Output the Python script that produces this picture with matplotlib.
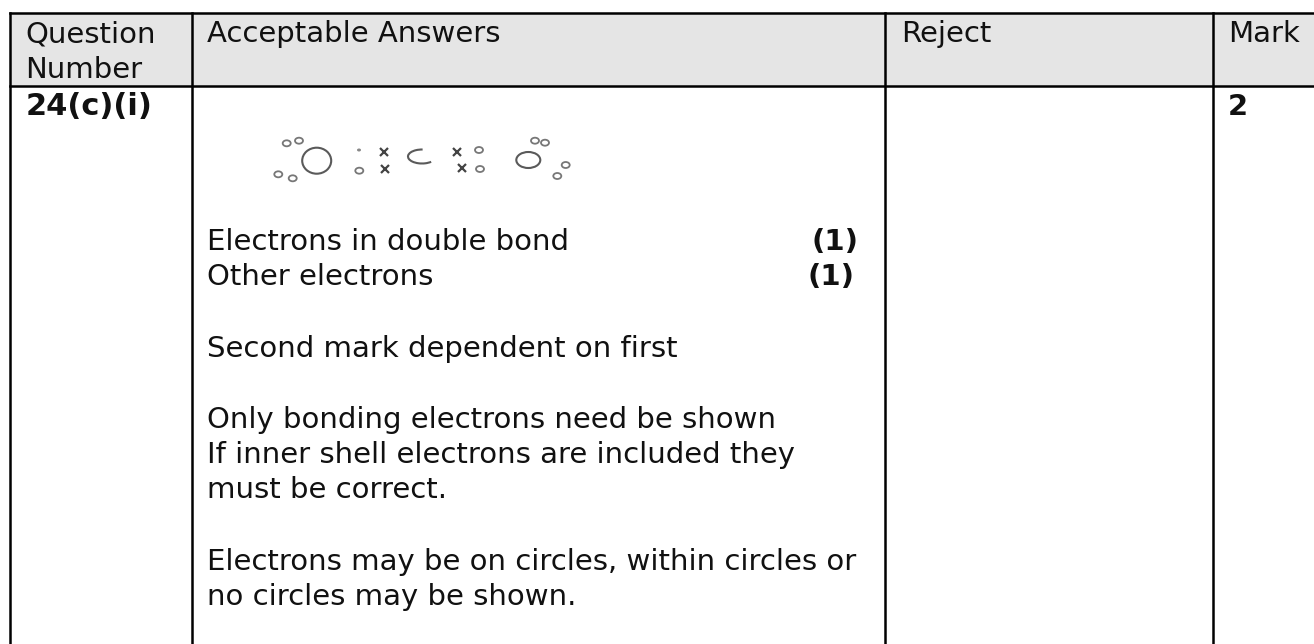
import matplotlib
matplotlib.use('Agg')
import matplotlib.pyplot as plt
from matplotlib.patches import Rectangle, Ellipse, Arc

W, H = 1314, 644

col_edges = [10, 192, 885, 1213]
row_edges = [13, 86]

header = ['Question\nNumber', 'Acceptable Answers', 'Reject', 'Mark']
header_x = [25, 207, 901, 1228]
question = '24(c)(i)'
mark = '2'

answers = ['Electrons in double bond', 'Other electrons', 'Second mark dependent on first',
           'Only bonding electrons need be shown', 'If inner shell electrons are included they',
           'must be correct.', 'Electrons may be on circles, within circles or',
           'no circles may be shown.']
answers_y = [250, 285, 357, 428, 463, 498, 570, 605]
marks_text = ['(1)', '(1)']
marks_x = [858, 854]

# hand drawn dot-and-cross sketch
big_o = [(316.7, 160.7, 29, 26), (528.3, 160, 24, 16)]
c_arc = (422, 156.5, 28, 14)
rings = [(286.7, 143.3), (299, 140.7), (278.3, 174.3), (292.7, 178.3), (359.3, 170.7),
         (479, 150), (480, 169), (535, 140.7), (545, 142.7), (565.7, 165), (557.3, 176)]
dots = [(359, 150)]
crosses = [(384, 151.7), (385.3, 168.7), (457.3, 152.3), (462.3, 167.7)]

plt.rcParams['font.family'] = ['DejaVu Sans']

fig = plt.figure(figsize=(W / 100, H / 100), dpi=100)
ax = fig.add_axes([0, 0, 1, 1])
ax.set_xlim(0, W)
ax.set_ylim(H, 0)
ax.axis('off')

# header shading, runs off the right edge like the scan
ax.add_patch(Rectangle((col_edges[0], row_edges[0]), W - col_edges[0],
                       row_edges[1] - row_edges[0], fc='#e5e5e5', ec='none'))

for x in col_edges:
    ax.plot([x, x], [row_edges[0], H], color='black', lw=1.8, solid_capstyle='projecting')
for y in row_edges:
    ax.plot([col_edges[0], W], [y, y], color='black', lw=1.8, solid_capstyle='projecting')

fs = 21
for x, t in zip(header_x, header):
    lines = t.split('\n')
    for i, l in enumerate(lines):
        ax.text(x, 42 + i * 36, l, fontsize=fs, va='baseline', ha='left', color='#111111')

ax.text(26, 115, question, fontsize=22, fontweight='bold', va='baseline', ha='left', color='#111111')
ax.text(1228, 115, mark, fontsize=fs, fontweight='bold', va='baseline', ha='left', color='#111111')

for t, y in zip(answers, answers_y):
    ax.text(207, y, t, fontsize=fs, va='baseline', ha='left', color='#111111')
for t, x, y in zip(marks_text, marks_x, answers_y):
    ax.text(x, y, t, fontsize=fs, fontweight='bold', va='baseline', ha='right', color='#111111')

ink = '#5a5a5a'
for x, y, w, h in big_o:
    ax.add_patch(Ellipse((x, y), w, h, fc='none', ec=ink, lw=1.5))
ax.add_patch(Arc(c_arc[:2], c_arc[2], c_arc[3], theta1=30, theta2=275, ec=ink, lw=1.5))
for x, y in rings:
    ax.add_patch(Ellipse((x, y), 8, 6, fc='none', ec='#777777', lw=1.3))
for x, y in dots:
    ax.add_patch(Ellipse((x, y), 4, 3, fc='#888888', ec='none'))
for x, y in crosses:
    ax.plot([x], [y], marker='x', ms=6, mew=1.6, color='#444444')

fig.savefig('out.png', dpi=100)
